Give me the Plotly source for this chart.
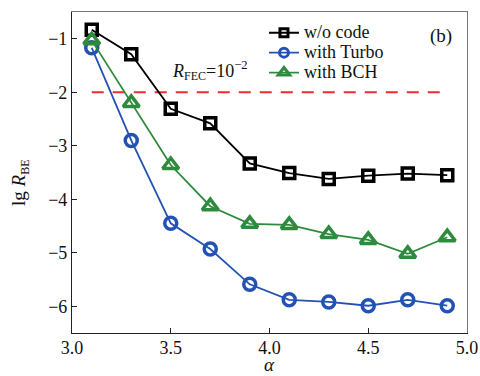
import plotly.graph_objects as go

alpha = [3.1, 3.3, 3.5, 3.7, 3.9, 4.1, 4.3, 4.5, 4.7, 4.9]
ber_uncoded = [-0.83, -1.29, -2.31, -2.58, -3.33, -3.51, -3.62, -3.56, -3.52, -3.55]
ber_turbo = [-1.17, -2.90, -4.45, -4.93, -5.59, -5.88, -5.92, -5.99, -5.88, -5.99]
ber_bch = [-1.03, -2.20, -3.36, -4.13, -4.46, -4.48, -4.65, -4.76, -5.02, -4.71]
fec_limit = -2
fec_span = [3.1, 4.9]

X_RANGE = [3.0, 5.0]
Y_RANGE = [-6.5, -0.5]

FONT = "Liberation Serif"
TXT = "#111"

fig = go.Figure()

fig.add_trace(go.Scatter(
    x=fec_span, y=[fec_limit, fec_limit], mode="lines",
    line=dict(color="#ee2b2b", width=2, dash="12px,9px"),
    showlegend=False, hoverinfo="skip"))

series = [
    ("w/o code", ber_uncoded, "#000000", "square-open", 11, 8),
    ("with Turbo", ber_turbo, "#2352b5", "circle-open", 12, 9),
    ("with BCH", ber_bch, "#2e8a3c", "triangle-up-open", 14, 10),
]
for name, vals, color, symbol, size, key_size in series:
    # data curve
    fig.add_trace(go.Scatter(
        x=alpha, y=vals, mode="lines+markers", name=name, showlegend=False,
        line=dict(color=color, width=1.8),
        marker=dict(symbol=symbol, size=size, color=color,
                    line=dict(color=color, width=3.5))))
    # legend key with a smaller marker
    fig.add_trace(go.Scatter(
        x=[None], y=[None], mode="lines+markers",
        name=f"<span style='font-size:18px'>{name}</span>",
        line=dict(color=color, width=1.8),
        marker=dict(symbol=symbol, size=key_size, color=color,
                    line=dict(color=color, width=3))))

fig.add_annotation(
    x=3.70, y=-1.6, xref="x", yref="y", showarrow=False,
    xanchor="center", yanchor="middle",
    text="<i>R</i><sub><span style='font-size:12px'>FEC</span></sub>=10<sup>−2</sup>",
    font=dict(family=FONT, size=18, color=TXT))

fig.add_annotation(
    x=0.934, y=0.925, xref="paper", yref="paper", showarrow=False,
    xanchor="center", yanchor="middle",
    text="(b)", font=dict(family=FONT, size=19, color=TXT))

# axis titles
fig.add_annotation(
    x=0.5, y=-0.133, xref="paper", yref="paper", showarrow=False,
    xanchor="center", yanchor="bottom", borderpad=0,
    text="<i>α</i>", font=dict(family=FONT, size=19, color=TXT))
fig.add_annotation(
    x=-0.132, y=0.467, xref="paper", yref="paper", showarrow=False,
    xanchor="center", yanchor="middle", textangle=-90,
    text="lg <i>R</i><sub><span style='font-size:12px'>BE</span></sub>",
    font=dict(family=FONT, size=19, color=TXT))

axis_common = dict(
    showline=True, linecolor="#222", linewidth=1.2, mirror=False,
    ticks="inside", ticklen=5, tickwidth=1.2, tickcolor="#222",
    showgrid=False, zeroline=False, automargin=False,
    tickfont=dict(family=FONT, size=18, color=TXT))

fig.update_xaxes(
    range=X_RANGE, tickvals=[3.0, 3.5, 4.0, 4.5, 5.0],
    ticktext=["3.0", "3.5", "4.0", "4.5", "5.0"],
    ticklabelstandoff=-2, **axis_common)
fig.update_yaxes(
    range=Y_RANGE, tickvals=[-6, -5, -4, -3, -2, -1],
    ticktext=["−6", "−5", "−4", "−3", "−2", "−1"],
    **axis_common)

# lighter frame along the top and right edges
frame = dict(showline=True, linecolor="#777", linewidth=1.2, ticks="",
             showticklabels=False, showgrid=False, zeroline=False, automargin=False)
fig.update_layout(
    xaxis2=dict(overlaying="x", side="top", range=X_RANGE, **frame),
    yaxis2=dict(overlaying="y", side="right", range=Y_RANGE, **frame),
)
fig.add_trace(go.Scatter(x=[None], y=[None], xaxis="x2", yaxis="y2",
                         showlegend=False, hoverinfo="skip"))

fig.update_layout(
    width=480, height=376,
    margin=dict(l=72, r=13, t=12, b=43),
    paper_bgcolor="white", plot_bgcolor="white",
    legend=dict(x=0.486, y=0.982, xanchor="left", yanchor="top",
                bgcolor="rgba(0,0,0,0)", font=dict(family=FONT, size=13, color=TXT),
                tracegroupgap=0, itemwidth=30),
)

fig.write_html("out.html")
